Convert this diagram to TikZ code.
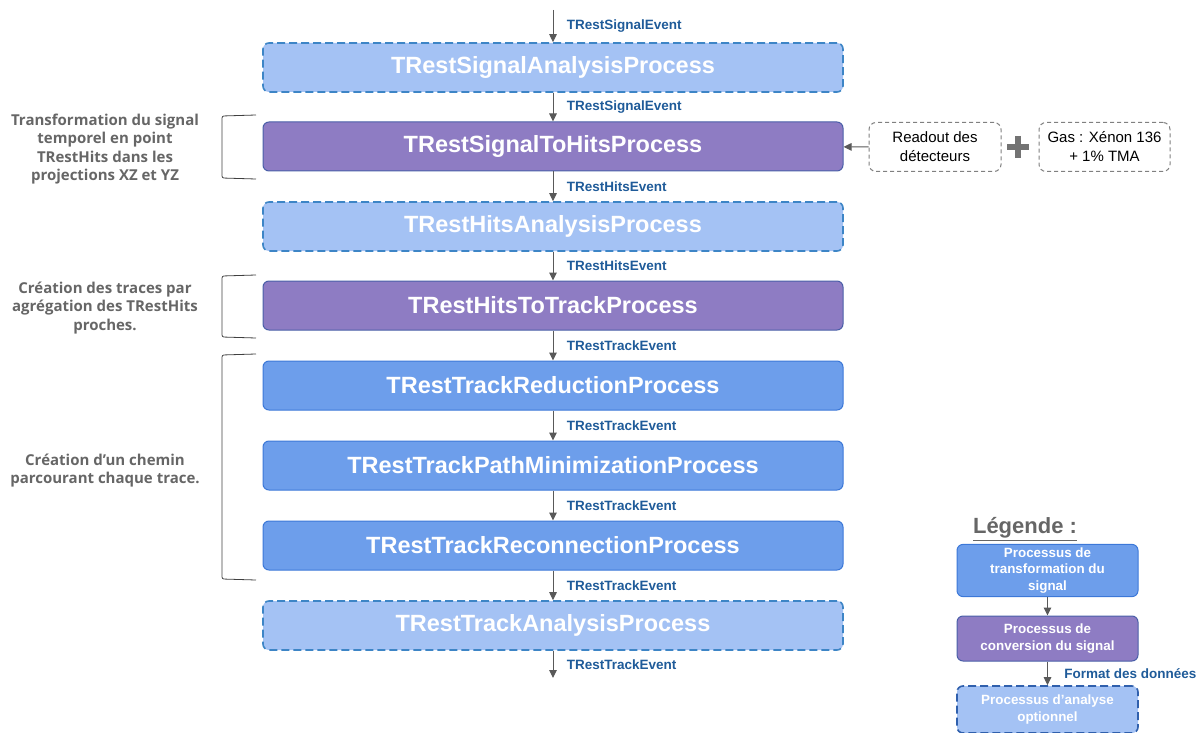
\documentclass[tikz,border=0pt]{standalone}
\usepackage{fontspec}
\setmainfont{Liberation Sans}
\newfontfamily\opensans{Open Sans}
\usetikzlibrary{arrows.meta}

\definecolor{anafill}{HTML}{A4C2F4}
\definecolor{anaborder}{HTML}{3D85C6}
\definecolor{convfill}{HTML}{8E7CC3}
\definecolor{convborder}{HTML}{4A5FA8}
\definecolor{transfill}{HTML}{6D9EEB}
\definecolor{transborder}{HTML}{3C78D8}
\definecolor{arrowgrey}{HTML}{595959}
\definecolor{evtblue}{HTML}{1F5B99}
\definecolor{notegrey}{HTML}{666666}
\definecolor{extgrey}{HTML}{808080}

\tikzset{
  proc/.style={rounded corners=6pt, minimum width=580pt, minimum height=49pt,
    text=white, font=\bfseries\fontsize{23.5}{27}\selectfont, line width=1pt},
  anaproc/.style={proc, fill=anafill, draw=anaborder, dash pattern=on 8pt off 4pt, line width=1.6pt},
  convproc/.style={proc, fill=convfill, draw=convborder},
  transproc/.style={proc, fill=transfill, draw=transborder},
  flow/.style={-{Triangle[length=8pt,width=7.5pt]}, draw=arrowgrey, line width=1pt},
  evt/.style={anchor=west, xshift=10pt, text=evtblue, font=\bfseries\fontsize{13.5}{16}\selectfont},
  note/.style={align=center, text=notegrey, font=\opensans\bfseries\fontsize{15}{18.3}\selectfont},
  bracket/.style={draw=black!75, line width=0.8pt, rounded corners=2pt},
  extbox/.style={draw=extgrey, dash pattern=on 4pt off 3pt, rounded corners=7pt, line width=1pt,
    minimum width=132pt, minimum height=49pt, align=center, font=\fontsize{15}{19}\selectfont},
  legbox/.style={rounded corners=6pt, minimum width=181pt, minimum height=45pt, align=center,
    text=white, font=\bfseries\fontsize{13.4}{16.5}\selectfont, line width=1pt},
}

\begin{document}
\begin{tikzpicture}[x=1pt, y=-1pt]
\useasboundingbox (0,0) rectangle (1200,733);

% chaine des processus
\coordinate (in) at (553,10);
\node[anaproc] (sigana) at (553,67.5) {TRestSignalAnalysisProcess};
\node[convproc] (sig2hits) at (553,146.5) {TRestSignalToHitsProcess};
\node[anaproc] (hitsana) at (553,226.5) {TRestHitsAnalysisProcess};
\node[convproc] (hits2track) at (553,305.5) {TRestHitsToTrackProcess};
\node[transproc] (trackred) at (553,385.5) {TRestTrackReductionProcess};
\node[transproc] (trackpath) at (553,465.5) {TRestTrackPathMinimizationProcess};
\node[transproc] (trackrec) at (553,545.5) {TRestTrackReconnectionProcess};
\node[anaproc] (trackana) at (553,625.5) {TRestTrackAnalysisProcess};
\coordinate (out) at (553,678);

\draw[flow] (in) -- (sigana) node[evt, midway] {TRestSignalEvent};
\draw[flow] (sigana) -- (sig2hits) node[evt, midway] {TRestSignalEvent};
\draw[flow] (sig2hits) -- (hitsana) node[evt, midway] {TRestHitsEvent};
\draw[flow] (hitsana) -- (hits2track) node[evt, midway] {TRestHitsEvent};
\draw[flow] (hits2track) -- (trackred) node[evt, midway] {TRestTrackEvent};
\draw[flow] (trackred) -- (trackpath) node[evt, midway] {TRestTrackEvent};
\draw[flow] (trackpath) -- (trackrec) node[evt, midway] {TRestTrackEvent};
\draw[flow] (trackrec) -- (trackana) node[evt, midway] {TRestTrackEvent};
\draw[flow] (trackana) -- (out) node[evt, midway] {TRestTrackEvent};

% commentaires a gauche
\draw[bracket] (256,115) -- (222,116) -- (222,178) -- (256,179);
\draw[bracket] (256,275) -- (222,276) -- (222,337) -- (256,338);
\draw[bracket] (256,354) -- (222,355) -- (222,579) -- (256,580);
\node[note] (notehits) at (105,149) {Transformation du signal\\temporel en point\\TRestHits dans les\\projections XZ et YZ};
\node[note] (notetrack) at (105,308) {Création des traces par\\agrégation des TRestHits\\proches.};
\node[note] (notepath) at (105,470.5) {Création d’un chemin\\parcourant chaque trace.};

% entrees du SignalToHits
\node[extbox] (readout) at (935,147) {Readout des\\détecteurs};
\node[extbox, minimum width=131pt] (gas) at (1104.5,147) {Gas : Xénon 136\\+ 1\% TMA};
\draw[flow] (readout) -- (sig2hits);
\draw[extgrey!90!black, line width=6pt] (1007,147) -- (1029,147) (1018,136) -- (1018,158);

% legende
\node[text=notegrey, font=\bfseries\fontsize{22}{26}\selectfont] (legtitle) at (1025,529) {\underline{Légende :}};
\node[legbox, fill=transfill, draw=transborder] (legtrans) at (1047.5,570.5) {Processus de\\transformation du\\signal};
\node[legbox, fill=convfill, draw=convborder] (legconv) at (1047.5,638.5) {Processus de\\conversion du signal};
\node[legbox, fill=anafill, draw=transborder!80!black, dash pattern=on 8pt off 4pt, line width=1.6pt, minimum height=47pt] (legana) at (1047.5,709.5) {Processus d’analyse\\optionnel};
\draw[flow] (legtrans) -- (legconv);
\draw[flow] (legconv) -- (legana) node[evt, midway, xshift=3pt] {Format des données};
\end{tikzpicture}
\end{document}
